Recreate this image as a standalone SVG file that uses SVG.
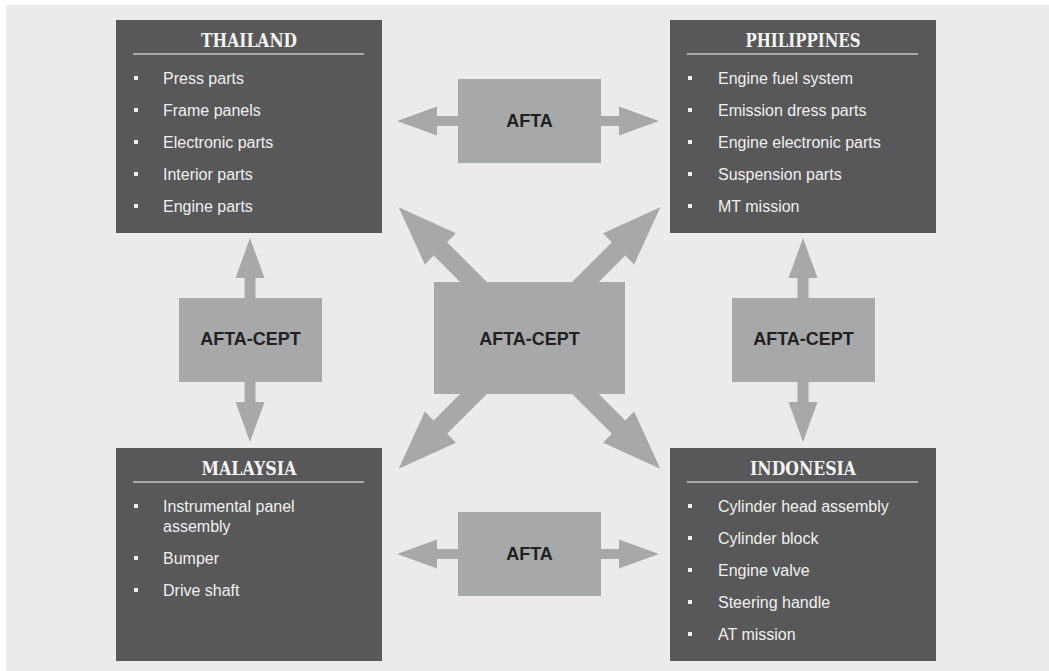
<svg xmlns="http://www.w3.org/2000/svg" width="1049" height="671" viewBox="0 0 1049 671">
  <style>
    .panel { fill: #58585a; }
    .pact { fill: #a7a8aa; }
    .rule { stroke: #a9aaac; stroke-width: 2; }
    .title { font-family: "DejaVu Serif", "Liberation Serif", serif; font-weight: bold; font-size: 18px; fill: #f4f4f4; text-anchor: middle; }
    .item { font-family: "Liberation Sans", Arial, sans-serif; font-size: 16px; fill: #f0f0f0; }
    .dot { fill: #f0f0f0; }
    .label { font-family: "Liberation Sans", Arial, sans-serif; font-weight: bold; font-size: 18px; fill: #231f20; text-anchor: middle; }
  </style>
  <defs>
    <!-- double-headed arrow along x, centred at origin, total length 262 -->
    <polygon id="hArrow" class="pact" points="-131,0 -91,-14.5 -91,-5 91,-5 91,-14.5 131,0 91,14.5 91,5 -91,5 -91,14.5"/>
    <!-- double-headed arrow along y, total length 204 -->
    <polygon id="vArrow" class="pact" points="0,-102 14.5,-62 5.5,-62 5.5,62 14.5,62 0,102 -14.5,62 -5.5,62 -5.5,-62 -14.5,-62"/>
    <!-- single arrow pointing along +x from the hub -->
    <polygon id="spoke" class="pact" points="0,-9.5 126,-9.5 126,-22 185,0 126,22 126,9.5 0,9.5"/>
  </defs>

  <rect x="6" y="5" width="1043" height="666" fill="#ebebed"/>

  <g id="connectors">
    <use href="#hArrow" x="528" y="121"/>
    <use href="#hArrow" x="528" y="554"/>
    <use href="#vArrow" x="250" y="340"/>
    <use href="#vArrow" x="803" y="340"/>
    <g transform="translate(529.5,338)">
      <use href="#spoke" transform="rotate(-135)"/>
      <use href="#spoke" transform="rotate(-45)"/>
      <use href="#spoke" transform="rotate(135)"/>
      <use href="#spoke" transform="rotate(45)"/>
    </g>
  </g>

  <g id="afta-top">
    <rect class="pact" x="458" y="79" width="143" height="84"/>
    <text class="label" x="529.5" y="127">AFTA</text>
  </g>
  <g id="afta-bottom">
    <rect class="pact" x="458" y="512" width="143" height="84"/>
    <text class="label" x="529.5" y="560">AFTA</text>
  </g>
  <g id="cept-left">
    <rect class="pact" x="179" y="298" width="143" height="84"/>
    <text class="label" x="250.5" y="345">AFTA-CEPT</text>
  </g>
  <g id="cept-right">
    <rect class="pact" x="732" y="298" width="143" height="84"/>
    <text class="label" x="803.5" y="345">AFTA-CEPT</text>
  </g>
  <g id="cept-centre">
    <rect class="pact" x="434" y="282" width="191" height="112"/>
    <text class="label" x="529.5" y="345">AFTA-CEPT</text>
  </g>

  <g id="thailand">
    <rect class="panel" x="116" y="20" width="266" height="213"/>
    <text class="title" x="249" y="47" textLength="96" lengthAdjust="spacingAndGlyphs">THAILAND</text>
    <line class="rule" x1="133" y1="54" x2="364" y2="54"/>
    <rect class="dot" x="134" y="76" width="4" height="4"/>
    <text class="item" x="163" y="84">Press parts</text>
    <rect class="dot" x="134" y="108" width="4" height="4"/>
    <text class="item" x="163" y="116">Frame panels</text>
    <rect class="dot" x="134" y="140" width="4" height="4"/>
    <text class="item" x="163" y="148">Electronic parts</text>
    <rect class="dot" x="134" y="172" width="4" height="4"/>
    <text class="item" x="163" y="180">Interior parts</text>
    <rect class="dot" x="134" y="204" width="4" height="4"/>
    <text class="item" x="163" y="212">Engine parts</text>
  </g>

  <g id="philippines">
    <rect class="panel" x="670" y="20" width="266" height="213"/>
    <text class="title" x="803" y="47" textLength="115" lengthAdjust="spacingAndGlyphs">PHILIPPINES</text>
    <line class="rule" x1="687" y1="54" x2="918" y2="54"/>
    <rect class="dot" x="688" y="76" width="4" height="4"/>
    <text class="item" x="718" y="84">Engine fuel system</text>
    <rect class="dot" x="688" y="108" width="4" height="4"/>
    <text class="item" x="718" y="116">Emission dress parts</text>
    <rect class="dot" x="688" y="140" width="4" height="4"/>
    <text class="item" x="718" y="148">Engine electronic parts</text>
    <rect class="dot" x="688" y="172" width="4" height="4"/>
    <text class="item" x="718" y="180">Suspension parts</text>
    <rect class="dot" x="688" y="204" width="4" height="4"/>
    <text class="item" x="718" y="212">MT mission</text>
  </g>

  <g id="malaysia">
    <rect class="panel" x="116" y="448" width="266" height="213"/>
    <text class="title" x="249" y="475" textLength="95" lengthAdjust="spacingAndGlyphs">MALAYSIA</text>
    <line class="rule" x1="133" y1="482" x2="364" y2="482"/>
    <rect class="dot" x="134" y="504" width="4" height="4"/>
    <text class="item" x="163" y="512">Instrumental panel</text>
    <text class="item" x="163" y="532">assembly</text>
    <rect class="dot" x="134" y="556" width="4" height="4"/>
    <text class="item" x="163" y="564">Bumper</text>
    <rect class="dot" x="134" y="588" width="4" height="4"/>
    <text class="item" x="163" y="596">Drive shaft</text>
  </g>

  <g id="indonesia">
    <rect class="panel" x="670" y="448" width="266" height="213"/>
    <text class="title" x="803" y="475" textLength="106" lengthAdjust="spacingAndGlyphs">INDONESIA</text>
    <line class="rule" x1="687" y1="482" x2="918" y2="482"/>
    <rect class="dot" x="688" y="504" width="4" height="4"/>
    <text class="item" x="718" y="512">Cylinder head assembly</text>
    <rect class="dot" x="688" y="536" width="4" height="4"/>
    <text class="item" x="718" y="544">Cylinder block</text>
    <rect class="dot" x="688" y="568" width="4" height="4"/>
    <text class="item" x="718" y="576">Engine valve</text>
    <rect class="dot" x="688" y="600" width="4" height="4"/>
    <text class="item" x="718" y="608">Steering handle</text>
    <rect class="dot" x="688" y="632" width="4" height="4"/>
    <text class="item" x="718" y="640">AT mission</text>
  </g>
</svg>
